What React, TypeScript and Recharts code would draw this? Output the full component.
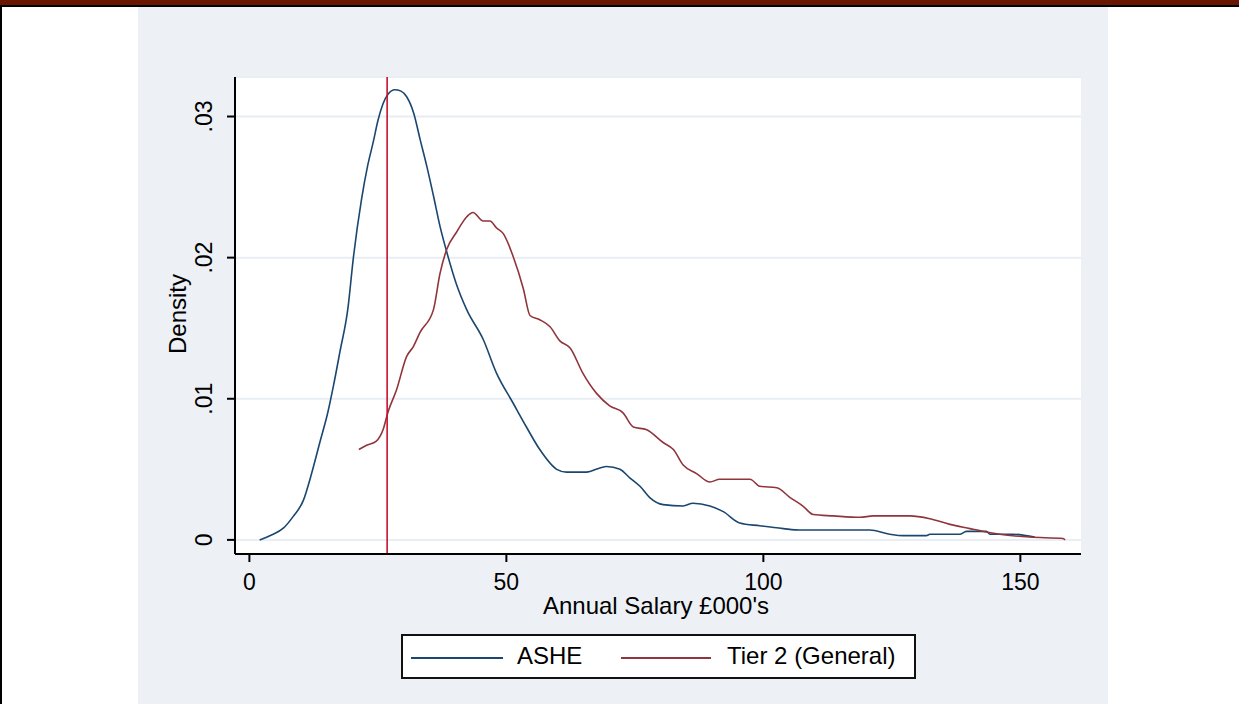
import React from "react";
import {
  LineChart,
  Line,
  XAxis,
  YAxis,
  CartesianGrid,
  ReferenceLine,
} from "recharts";

// ASHE kernel density (salary in £000s)
const asheSalary = [
  2.0, 4.3, 6.6, 8.5, 10.5, 12.1, 13.7, 15.3, 16.4, 17.6, 19.2, 20.2, 21.8,
  23.0, 24.1, 25.0, 26.0, 27.0, 28.3, 29.5, 30.6, 32.0, 33.2, 34.5, 35.8, 37.1,
  38.4, 40.3, 42.3, 45.5, 48.1, 51.3, 53.9, 56.5, 59.8, 61.7, 65.6, 68.2, 69.5,
  72.1, 74.0, 76.0, 77.9, 80.5, 84.4, 86.3, 89.6, 92.2, 95.4, 99.3, 103.9,
  107.1, 120.7, 124.6, 127.2, 131.7, 132.4, 138.2, 139.5, 143.4, 144.1, 148.5,
  152.8,
];
const asheDensity = [
  0.0, 0.00035, 0.00083, 0.00165, 0.0028, 0.0047, 0.0069, 0.0091, 0.011,
  0.0133, 0.0165, 0.0199, 0.0241, 0.0265, 0.0282, 0.0297, 0.0309, 0.0316,
  0.0319, 0.0318, 0.0314, 0.0302, 0.0284, 0.0265, 0.0244, 0.0222, 0.0204,
  0.0181, 0.0163, 0.0142, 0.0118, 0.0097, 0.008, 0.0064, 0.005, 0.0048, 0.0048,
  0.0051, 0.0052, 0.005, 0.0044, 0.0038, 0.003, 0.0025, 0.0024, 0.0026, 0.0024,
  0.002, 0.0012, 0.001, 0.0008, 0.0007, 0.0007, 0.0004, 0.0003, 0.0003, 0.0004,
  0.0004, 0.0006, 0.0006, 0.0004, 0.0004, 0.0002,
];

// Tier 2 (General) kernel density
const tierSalary = [
  21.3, 22.8, 24.7, 26.0, 27.0, 28.6, 30.6, 31.9, 33.2, 35.8, 37.1, 38.4, 40.3,
  42.3, 43.5, 45.5, 46.8, 48.1, 49.4, 51.3, 53.3, 54.6, 56.5, 58.5, 60.4, 62.4,
  64.9, 67.5, 70.1, 72.7, 74.7, 77.3, 80.5, 82.5, 84.4, 87.0, 89.6, 91.5, 97.4,
  99.3, 102.6, 105.2, 107.7, 109.7, 113.6, 118.8, 121.4, 128.5, 132.4, 136.3,
  140.2, 142.8, 146.0, 151.8, 158.3, 158.7,
];
const tierDensity = [
  0.0064, 0.0067, 0.007, 0.0078, 0.0091, 0.0106, 0.013, 0.0137, 0.0147, 0.0163,
  0.0189, 0.0206, 0.0218, 0.0229, 0.0232, 0.0226, 0.0226, 0.0221, 0.0217,
  0.0201, 0.0178, 0.0159, 0.0156, 0.0151, 0.0141, 0.0136, 0.0118, 0.0104,
  0.0095, 0.009, 0.008, 0.0078, 0.0069, 0.0064, 0.0053, 0.0047, 0.0041, 0.0043,
  0.0043, 0.0038, 0.0037, 0.003, 0.0024, 0.0018, 0.0017, 0.0016, 0.0017, 0.0017,
  0.0015, 0.0011, 0.0008, 0.0006, 0.0004, 0.0002, 0.0001, 0.0,
];

const xTicks = [0, 50, 100, 150];
const yTicks = [0, 0.01, 0.02, 0.03];
const medianLine = 26.8;

const ashe = asheSalary.map((x, i) => ({ x, y: asheDensity[i] }));
const tier2 = tierSalary.map((x, i) => ({ x, y: tierDensity[i] }));

const FONT = "'Liberation Sans', Arial, sans-serif";
const BLUE = "#1a476f";
const RED = "#90353b";
const PANEL = "#edf1f6";

function fmtDensity(v: number): string {
  if (v === 0) return "0";
  return v.toFixed(2).replace(/^0/, "");
}

function YTick(props: any) {
  const { x, y, payload } = props;
  return (
    <text
      transform={`translate(${x - 13},${y}) rotate(-90)`}
      textAnchor="middle"
      fontSize={23}
      fontFamily={FONT}
      fill="#000"
    >
      {fmtDensity(payload.value)}
    </text>
  );
}

function XTitle() {
  return (
    <text x={518} y={607} textAnchor="middle" fontSize={24} fontFamily={FONT} fill="#000">
      Annual Salary £000's
    </text>
  );
}

function YTitle() {
  return (
    <text
      transform="translate(48,307) rotate(-90)"
      textAnchor="middle"
      fontSize={24}
      fontFamily={FONT}
      fill="#000"
    >
      Density
    </text>
  );
}

export default function App() {
  return (
    <div
      style={{
        position: "absolute",
        left: 0,
        top: 0,
        width: 1239,
        height: 704,
        background: "#fff",
        overflow: "hidden",
        fontFamily: FONT,
      }}
    >
      <div style={{ position: "absolute", left: 0, top: 0, width: 1239, height: 5, background: "#6a1600" }} />
      <div style={{ position: "absolute", left: 0, top: 5, width: 1239, height: 2, background: "#000" }} />
      <div style={{ position: "absolute", left: 0, top: 7, width: 2, height: 697, background: "#000" }} />

      <div style={{ position: "absolute", left: 138, top: 7, width: 970, height: 697, background: PANEL }}>
        <LineChart
          width={970}
          height={697}
          margin={{ top: 70, right: 27, left: 37, bottom: 90 }}
        >
          <CartesianGrid
            horizontal
            vertical={false}
            fill="#fff"
            stroke="#e8eef4"
            strokeWidth={2}
          />
          <XAxis
            type="number"
            dataKey="x"
            domain={[-2.8, 161.8]}
            ticks={xTicks}
            allowDataOverflow
            height={60}
            tickSize={8}
            tickMargin={12}
            axisLine={{ stroke: "#000", strokeWidth: 2 }}
            tickLine={{ stroke: "#000", strokeWidth: 2 }}
            tick={{ fontSize: 23, fontFamily: FONT, fill: "#000" }}
            label={<XTitle />}
          />
          <YAxis
            type="number"
            dataKey="y"
            domain={[-0.001, 0.0328]}
            ticks={yTicks}
            allowDataOverflow
            width={60}
            tickSize={8}
            axisLine={{ stroke: "#000", strokeWidth: 2 }}
            tickLine={{ stroke: "#000", strokeWidth: 2 }}
            tick={<YTick />}
            label={<YTitle />}
          />
          <Line
            data={ashe}
            dataKey="y"
            type="monotone"
            stroke={BLUE}
            strokeWidth={1.6}
            dot={false}
            isAnimationActive={false}
          />
          <Line
            data={tier2}
            dataKey="y"
            type="monotone"
            stroke={RED}
            strokeWidth={1.6}
            dot={false}
            isAnimationActive={false}
          />
          <ReferenceLine x={medianLine} stroke="#c8102e" strokeWidth={1.6} />
        </LineChart>
      </div>

      <div
        style={{
          position: "absolute",
          left: 401,
          top: 634,
          width: 515,
          height: 45,
          boxSizing: "border-box",
          border: "2px solid #111",
          background: "#fff",
          fontSize: 24,
          color: "#000",
        }}
      >
        <div style={{ position: "absolute", left: 8, top: 21, width: 92, height: 2, background: BLUE }} />
        <div style={{ position: "absolute", left: 114, top: 6, lineHeight: "28px", whiteSpace: "nowrap" }}>ASHE</div>
        <div style={{ position: "absolute", left: 218, top: 21, width: 90, height: 2, background: RED }} />
        <div style={{ position: "absolute", left: 324, top: 6, lineHeight: "28px", whiteSpace: "nowrap" }}>
          Tier 2 (General)
        </div>
      </div>
    </div>
  );
}
